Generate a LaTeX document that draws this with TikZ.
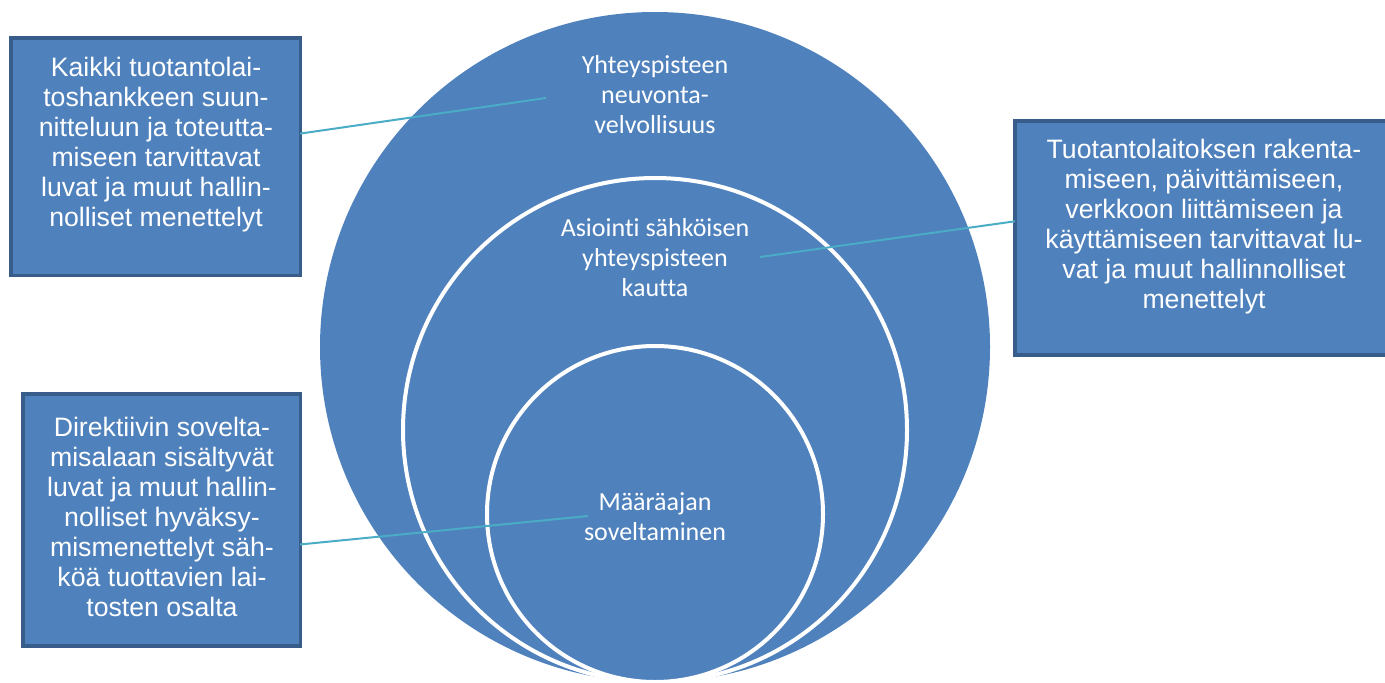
\documentclass[tikz,border=0pt]{standalone}
\usepackage{fontspec}
\setmainfont{Liberation Sans}
\newfontfamily\cbrfont[Ligatures=NoCommon]{Carlito}
\definecolor{sablue}{HTML}{4F81BD}
\definecolor{sadark}{HTML}{385D8A}
\definecolor{salink}{HTML}{4BACC6}

\begin{document}
\begin{tikzpicture}[x=0.75pt, y=-0.75pt,
    box/.style={rectangle, draw=sadark, line width=2.5pt, fill=sablue, outer sep=0pt},
    boxtext/.style={text=white, align=center, inner sep=0pt, font=\fontsize{20}{22.5}\selectfont},
    circtext/.style={text=white, align=center, inner sep=0pt, font=\cbrfont\fontsize{19.5}{22.5}\selectfont},
    link/.style={draw=salink, line width=1.5pt}]
    \clip (0, 0) rectangle (1385, 682);
    % C0
    \fill [sablue]                               (655, 347) circle (251.25pt);
    \node [circtext] (c0) at (655, 95) {Yhteyspisteen\\neuvonta-\\velvollisuus};
    % C1
    \draw [fill=sablue, draw=white, line width=3pt] (655, 430) circle (189pt);
    \node [circtext] (c1) at (655, 258) {Asiointi sähköisen\\yhteyspisteen\\kautta};
    % C2
    \draw [fill=sablue, draw=white, line width=3pt] (655, 514) circle (126pt);
    \node [circtext] (c2) at (655, 517) {Määräajan\\soveltaminen};
    % B0
    \node [box, minimum width=217pt, minimum height=178pt] (b0) at (155.5, 156.5) {};
    \node [boxtext] (b0 text) at (156, 145) {Kaikki tuotantolai-\\toshankkeen suun-\\nitteluun ja toteutta-\\miseen tarvittavat\\luvat ja muut hallin-\\nolliset menettelyt};
    % B1
    \node [box, minimum width=286.5pt, minimum height=175.5pt] (b1) at (1206, 238) {};
    \node [boxtext] (b1 text) at (1204, 227) {Tuotantolaitoksen rakenta-\\miseen, päivittämiseen,\\verkkoon liittämiseen ja\\käyttämiseen tarvittavat lu-\\vat ja muut hallinnolliset\\menettelyt};
    % B2
    \node [box, minimum width=208pt, minimum height=189pt] (b2) at (161.5, 520) {};
    \node [boxtext] (b2 text) at (162, 517) {Direktiivin sovelta-\\misalaan sisältyvät\\luvat ja muut hallin-\\nolliset hyväksy-\\mismenettelyt säh-\\köä tuottavien lai-\\tosten osalta};
    % links
    \coordinate (c0 end) at (546, 98);
    \coordinate (c1 end) at (760, 257);
    \coordinate (c2 end) at (588, 516);
    \draw [link] (b0.9)   -- (c0 end);
    \draw [link] (c1 end) -- (b1.175);
    \draw [link] (b2.-10) -- (c2 end);
\end{tikzpicture}
\end{document}
